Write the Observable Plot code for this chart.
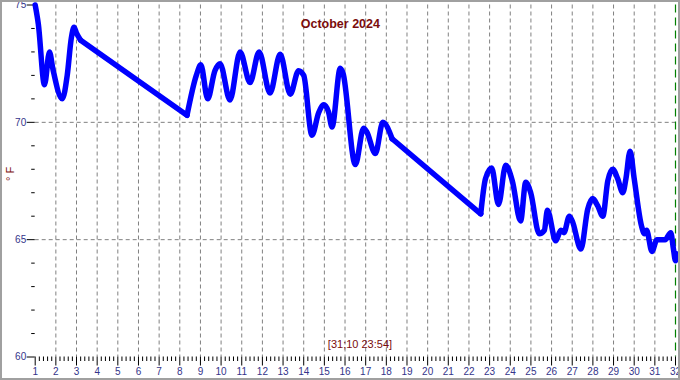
<!DOCTYPE html>
<html>
<head>
<meta charset="utf-8">
<script src="https://cdn.jsdelivr.net/npm/d3@7"></script>
<script src="https://cdn.jsdelivr.net/npm/@observablehq/plot@0.6"></script>
<style>
  html, body { margin: 0; padding: 0; background: #fff; }
  #wrap { position: relative; width: 680px; height: 380px; }
  #frame { position: absolute; left: 0; top: 0; width: 676px; height: 376px; border: 2px solid #a0a0a0; pointer-events: none; }
  svg { display: block; }
</style>
</head>
<body>
<div id="wrap"><div id="frame"></div></div>
<script>
const title = "October 2024";
const stamp = "[31;10 23:54]";
const yLabel = "° F";

const days = [1.00,1.15,1.45,1.69,1.85,2.31,2.55,2.75,2.88,3.00,3.20,
  8.35,8.80,9.02,9.35,9.70,9.95,10.43,10.92,11.40,11.84,12.37,12.86,13.35,13.75,14.00,
  14.40,14.72,14.97,15.20,15.37,15.77,15.90,16.50,16.90,17.05,17.47,17.83,18.28,
  22.57,22.80,23.10,23.43,23.78,24.10,24.50,24.75,24.99,25.40,25.65,25.80,26.20,26.45,26.60,
  26.86,27.00,27.42,27.75,27.99,28.23,28.48,28.72,28.96,29.20,29.45,29.60,29.80,30.00,
  30.35,30.50,30.60,30.86,31.10,31.50,31.77,31.90,32.00,32.05];
const temps = [75.0,74.2,71.6,73.0,72.3,71.0,72.0,73.6,74.05,73.8,73.5,
  70.3,72.0,72.45,71.0,72.2,72.5,70.95,73.0,71.7,73.0,71.25,72.9,71.2,72.2,72.0,
  69.45,70.4,70.75,70.45,69.8,72.3,72.1,68.2,69.75,69.6,68.67,70.0,69.3,
  66.1,67.6,68.05,66.5,68.17,67.5,65.8,67.45,67.0,65.25,65.4,66.25,64.95,65.4,65.3,
  66.0,65.8,64.6,66.3,66.75,66.45,66.0,67.5,68.0,67.6,67.0,67.6,68.77,67.6,
  65.6,65.25,65.4,64.5,65.0,65.0,65.3,64.6,64.1,64.4];
// days after which the logger had a gap (drawn as straight connecting lines)
const gapStarts = [3.20, 18.28];

const xTicks = [1,2,3,4,5,6,7,8,9,10,11,12,13,14,15,16,17,18,19,20,21,22,23,24,25,26,27,28,29,30,31,32];
const xMinorTicks = d3.range(1, 32.001, 0.2).filter(d => Math.abs(d - Math.round(d)) > 1e-6);
const yTicks = [60, 65, 70, 75];
const yMinorTicks = [61,62,63,64,66,67,68,69,71,72,73,74];
const yGrid = [65, 70];
const xGrid = xTicks.filter(d => d > 1 && d < 32);

const data = days.map((d, i) => ({day: d, temp: temps[i], seg: gapStarts.filter(g => d > g).length}));
const gapData = [];
data.forEach((p, i) => {
  if (i > 0 && p.seg !== data[i - 1].seg) {
    gapData.push({...data[i - 1], gap: p.seg}, {...p, gap: p.seg});
  }
});

const navy = "#34348a";
const darkRed = "#7a0c0c";
const lineStyle = {x: "day", y: "temp", stroke: "#0000ff", strokeWidth: 5.5, strokeLinejoin: "round", strokeLinecap: "round"};

const chart = Plot.plot({
  width: 680,
  height: 380,
  marginLeft: 34.7,
  marginRight: 5,
  marginTop: 4.5,
  marginBottom: 23.5,
  style: {fontFamily: "'Liberation Sans', Arial, sans-serif", fontSize: "10px", background: "transparent"},
  x: {domain: [1, 32]},
  y: {domain: [60, 75]},
  marks: [
    Plot.gridX(xGrid, {stroke: "#808080", strokeOpacity: 1, strokeDasharray: "4,3"}),
    Plot.gridY(yGrid, {stroke: "#808080", strokeOpacity: 1, strokeDasharray: "4,3"}),
    Plot.ruleX([32], {stroke: "#008000", strokeDasharray: "8,5", strokeWidth: 1.2}),
    Plot.axisY(yTicks, {tickSize: 8, tickPadding: 1, stroke: "#000", color: navy, fontSize: 10, label: null}),
    Plot.axisY(yMinorTicks, {tickSize: 3.5, tickFormat: () => "", stroke: "#000", label: null}),
    Plot.axisX(xTicks, {tickSize: 9, tickPadding: 2, stroke: "#000", color: navy, fontSize: 10, label: null}),
    Plot.axisX(xMinorTicks, {tickSize: 4.5, tickFormat: () => "", stroke: "#000", label: null}),
    Plot.line(gapData, {...lineStyle, z: "gap", curve: "linear"}),
    Plot.line(data, {...lineStyle, z: "seg", curve: "monotone-x"}),
    Plot.text([title], {frameAnchor: "top", dx: -15, dy: 14, fill: darkRed, fontWeight: "bold", fontSize: 12.5}),
    Plot.text([stamp], {frameAnchor: "bottom", dx: 4.6, dy: -8.7, fill: darkRed, fontSize: 11}),
    Plot.text([yLabel], {frameAnchor: "left", dx: -24.7, rotate: -90, fill: darkRed, fontSize: 11})
  ]
});
document.getElementById("wrap").prepend(chart);
</script>
</body>
</html>
